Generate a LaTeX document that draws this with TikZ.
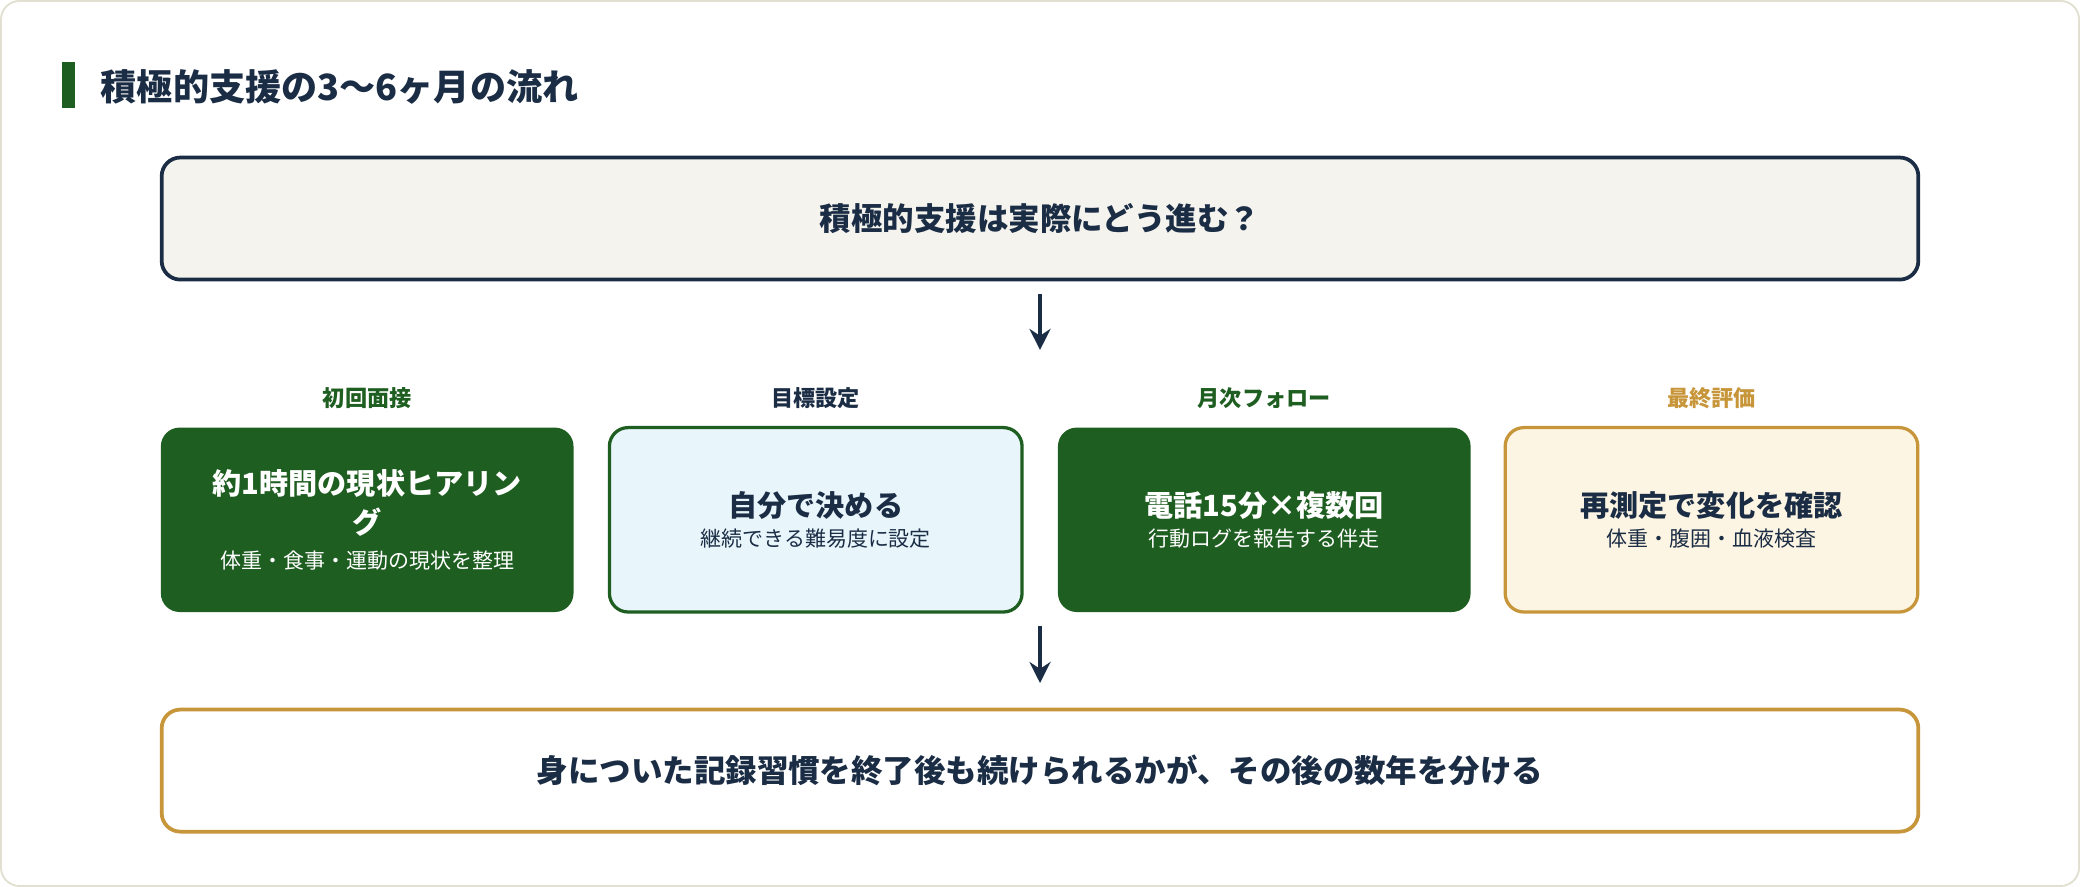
\documentclass[tikz,border=0pt]{standalone}
\usepackage{fontspec}
\setmainfont{Noto Sans CJK JP}
\usetikzlibrary{arrows.meta}
\definecolor{navy}{HTML}{1B2D45}
\definecolor{leaf}{HTML}{1E5E20}
\definecolor{gold}{HTML}{C8963A}
\definecolor{paper}{HTML}{F5F3EE}
\definecolor{sky}{HTML}{E8F6FC}
\definecolor{cream}{HTML}{FDF5E4}
\definecolor{frame}{HTML}{E2E0D0}

\begin{document}
\begin{tikzpicture}[x=0.02cm,y=-0.02cm,>={Stealth[length=9pt,width=9pt]},
  wide/.style={draw,line width=1.6pt,rounded corners=8pt,minimum width=26.48cm,minimum height=1.84cm,font=\bfseries\fontsize{13.5}{16}\selectfont,text=navy},
  phase/.style={line width=1.4pt,rounded corners=8pt,minimum width=6.22cm,minimum height=2.78cm,align=center,font=\bfseries\fontsize{12.5}{17}\selectfont},
  tag/.style={font=\bfseries\fontsize{9.5}{11}\selectfont}]
%%%FRAME
\draw[frame,fill=white,line width=0.8pt,rounded corners=8pt] (1,1) rectangle (1567,668);
\fill[leaf] (47,47) rectangle (57,82);
\node[anchor=west,text=navy,font=\bfseries\fontsize{15.5}{18}\selectfont] (title) at (70,66) {積極的支援の3〜6ヶ月の流れ};
%%%QUESTION
\node[wide,fill=paper,draw=navy] (ask) at (784,165) {積極的支援は実際にどう進む？};
%%%PHASES
\node[tag,text=leaf] (t1) at (277,300) {初回面接};
\node[tag,text=navy] (t2) at (615,300) {目標設定};
\node[tag,text=leaf] (t3) at (953,300) {月次フォロー};
\node[tag,text=gold] (t4) at (1290,300) {最終評価};
\node[phase,fill=leaf,text=white] (s1) at (277,392) {約1時間の現状ヒアリン\\グ\\[-2pt]{\mdseries\fontsize{9}{11}\selectfont 体重・食事・運動の現状を整理}};
\node[phase,fill=sky,draw=leaf,text=navy] (s2) at (615,392) {自分で決める\\[-4pt]{\mdseries\fontsize{9}{11}\selectfont 継続できる難易度に設定}};
\node[phase,fill=leaf,text=white] (s3) at (953,392) {電話15分×複数回\\[-4pt]{\mdseries\fontsize{9}{11}\selectfont 行動ログを報告する伴走}};
\node[phase,fill=cream,draw=gold,text=navy] (s4) at (1290,392) {再測定で変化を確認\\[-4pt]{\mdseries\fontsize{9}{11}\selectfont 体重・腹囲・血液検査}};
%%%RESULT
\node[wide,fill=white,draw=gold] (end) at (784,581) {身についた記録習慣を終了後も続けられるかが、その後の数年を分ける};
%%%ARROWS
\coordinate (a1) at (784,222);
\coordinate (a2) at (784,264);
\coordinate (b1) at (784,472);
\coordinate (b2) at (784,515);
\draw[->,navy,line width=1.6pt] (a1) -- (a2);
\draw[->,navy,line width=1.6pt] (b1) -- (b2);
\end{tikzpicture}
\end{document}
